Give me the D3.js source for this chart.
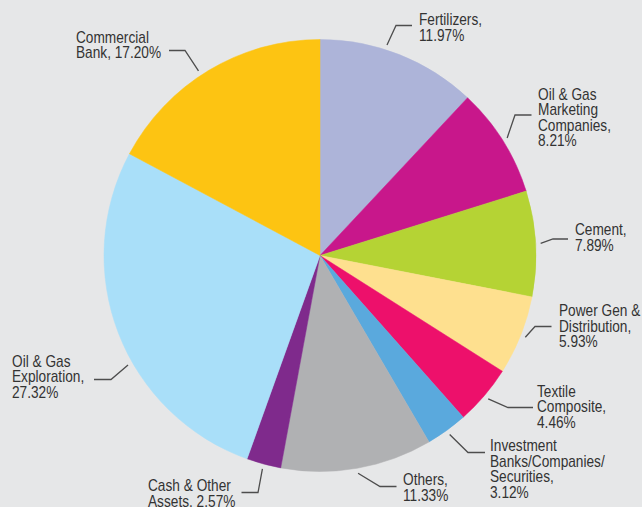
<!DOCTYPE html>
<html>
<head>
<meta charset="utf-8">
<script src="https://cdn.jsdelivr.net/npm/d3@7"></script>
<style>
  html, body { margin: 0; padding: 0; background: #e6e7e8; }
  svg { display: block; }
  .lbl { font-family: "Liberation Sans", Arial, sans-serif; font-size: 16px; fill: #333333; }
</style>
</head>
<body>
<div id="chart"></div>
<script>
// sectors, clockwise from 12 o'clock
const sectors = ["Fertilizers", "Oil & Gas Marketing Companies", "Cement", "Power Gen & Distribution",
  "Textile Composite", "Investment Banks/Companies/Securities", "Others", "Cash & Other Assets",
  "Oil & Gas Exploration", "Commercial Bank"];
const shares = [11.97, 8.21, 7.89, 5.93, 4.46, 3.12, 11.33, 2.57, 27.32, 17.20];
const colors = ["#adb4d9", "#c8178b", "#b5d334", "#fee08f", "#ed106b", "#5aa9dd", "#b0b1b3", "#7f2a8c", "#a9dff9", "#fdc412"];

// how the sector names wrap in the labels
const nameLines = [["Fertilizers"], ["Oil & Gas", "Marketing", "Companies"], ["Cement"], ["Power Gen &", "Distribution"],
  ["Textile", "Composite"], ["Investment", "Banks/Companies/", "Securities"], ["Others"], ["Cash & Other", "Assets"],
  ["Oil & Gas", "Exploration"], ["Commercial", "Bank"]];
const pctInline = [false, false, false, false, false, false, false, true, false, true];

// label placement: text x / first baseline, leader elbow, end of horizontal, angle nudge (deg)
const labelPos = [
  {tx: 419, ty: 25,    ex: 396,   ey: 25.5,  hx: 412,   nudge: -3.9},
  {tx: 538, ty: 99.5,  ex: 515,   ey: 115,   hx: 531.5, nudge: 0},
  {tx: 575, ty: 235,   ex: 553,   ey: 239,   hx: 568,   nudge: 0},
  {tx: 559, ty: 316,   ex: 535,   ey: 326.5, hx: 551.5, nudge: 0},
  {tx: 537, ty: 396.5, ex: 508,   ey: 407.5, hx: 533,   nudge: 0},
  {tx: 490, ty: 451,   ex: 468,   ey: 452.5, hx: 485,   nudge: 0},
  {tx: 403, ty: 485,   ex: 380,   ey: 486.5, hx: 396.5, nudge: 0},
  {tx: 148, ty: 491,   ex: 258,   ey: 492.5, hx: 241.5, nudge: 0},
  {tx: 12,  ty: 366.5, ex: 111,   ey: 379.5, hx: 94,    nudge: -8.6},
  {tx: 76,  ty: 42.5,  ex: 185,   ey: 50.5,  hx: 169,   nudge: -2.4}
];

const W = 642, H = 507;
const cx = 320, cy = 255.5, r = 216;
const lineH = 15.6;
const squeeze = 0.855; // condensed look

const svg = d3.select("#chart").append("svg")
  .attr("width", W).attr("height", H);

svg.append("rect").attr("width", W).attr("height", H).attr("fill", "#e6e7e8");

const pie = d3.pie().sort(null).value(d => d);
const arcs = pie(shares);
const arc = d3.arc().innerRadius(0).outerRadius(r);

const g = svg.append("g").attr("transform", "translate(" + cx + "," + cy + ")");

g.selectAll("path.slice")
  .data(arcs)
  .enter()
  .append("path")
    .attr("class", "slice")
    .attr("d", arc)
    .attr("fill", (d, i) => colors[i])
    .attr("stroke", (d, i) => colors[i])
    .attr("stroke-width", 0.5);

// leader lines
arcs.forEach((d, i) => {
  const p = labelPos[i];
  const a = (d.startAngle + d.endAngle) / 2 + p.nudge * Math.PI / 180;
  const s = d3.pointRadial(a, r + 5);
  const line = d3.line();
  svg.append("path")
    .attr("d", line([[cx + s[0], cy + s[1]], [p.ex, p.ey], [p.hx, p.ey]]))
    .attr("fill", "none")
    .attr("stroke", "#4d4d4d")
    .attr("stroke-width", 1.3);
});

// labels
sectors.forEach((name, i) => {
  const p = labelPos[i];
  const pct = d3.format(".2f")(shares[i]) + "%";
  const lines = nameLines[i].slice();
  if (pctInline[i]) {
    lines[lines.length - 1] += ", " + pct;
  } else {
    lines[lines.length - 1] += ",";
    lines.push(pct);
  }
  const t = svg.append("text")
    .attr("class", "lbl")
    .attr("transform", "translate(" + p.tx + "," + p.ty + ") scale(" + squeeze + ",1)");
  lines.forEach((ln, k) => {
    t.append("tspan").attr("x", 0).attr("y", k * lineH).text(ln);
  });
});
</script>
</body>
</html>
